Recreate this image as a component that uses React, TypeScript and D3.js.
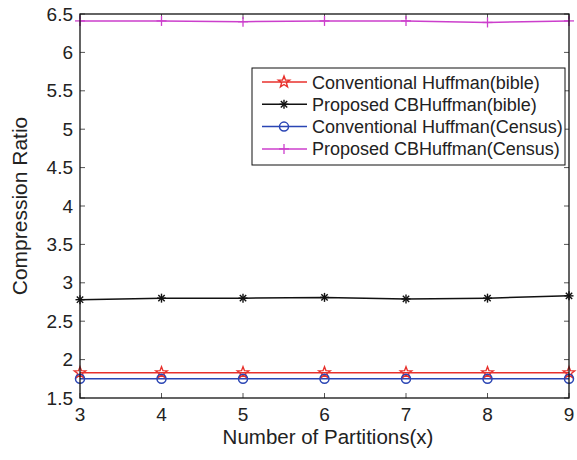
import React, { useEffect, useRef } from "react";
import * as d3 from "d3";

const partitions = [3, 4, 5, 6, 7, 8, 9];
const convBible = [1.83, 1.83, 1.83, 1.83, 1.83, 1.83, 1.83];
const propBible = [2.78, 2.8, 2.8, 2.81, 2.79, 2.8, 2.83];
const convCensus = [1.75, 1.75, 1.75, 1.75, 1.75, 1.75, 1.75];
const propCensus = [6.41, 6.41, 6.4, 6.41, 6.41, 6.39, 6.41];
const yTicks = [1.5, 2, 2.5, 3, 3.5, 4, 4.5, 5, 5.5, 6, 6.5];
const seriesNames = [
  "Conventional Huffman(bible)",
  "Proposed CBHuffman(bible)",
  "Conventional Huffman(Census)",
  "Proposed CBHuffman(Census)",
];

const FONT = "Liberation Sans, Arial, sans-serif";

function drawMarker(g: any, kind: string, cx: number, cy: number, color: string) {
  if (kind === "star") {
    const pts: [number, number][] = [];
    for (let i = 0; i < 10; i++) {
      const r = i % 2 === 0 ? 6 : 2.5;
      const a = -Math.PI / 2 + (i * Math.PI) / 5;
      pts.push([cx + r * Math.cos(a), cy + r * Math.sin(a)]);
    }
    g.append("polygon")
      .attr("points", pts.map((p) => p.join(",")).join(" "))
      .attr("fill", "none")
      .attr("stroke", color)
      .attr("stroke-width", 1.4);
  } else if (kind === "asterisk") {
    const r = 4.5;
    for (let i = 0; i < 4; i++) {
      const a = (i * Math.PI) / 4 + Math.PI / 2;
      g.append("line")
        .attr("x1", cx - r * Math.cos(a))
        .attr("y1", cy - r * Math.sin(a))
        .attr("x2", cx + r * Math.cos(a))
        .attr("y2", cy + r * Math.sin(a))
        .attr("stroke", color)
        .attr("stroke-width", 1.4);
    }
  } else if (kind === "circle") {
    g.append("circle")
      .attr("cx", cx)
      .attr("cy", cy)
      .attr("r", 4.5)
      .attr("fill", "none")
      .attr("stroke", color)
      .attr("stroke-width", 1.5);
  } else {
    const r = 5;
    g.append("line").attr("x1", cx - r).attr("y1", cy).attr("x2", cx + r).attr("y2", cy)
      .attr("stroke", color).attr("stroke-width", 1.3);
    g.append("line").attr("x1", cx).attr("y1", cy - r).attr("x2", cx).attr("y2", cy + r)
      .attr("stroke", color).attr("stroke-width", 1.3);
  }
}

export default function App() {
  const ref = useRef<SVGSVGElement>(null);

  useEffect(() => {
    const svg = d3.select(ref.current);
    svg.selectAll("*").remove();

    const left = 80, right = 569, top = 14, bottom = 398;

    const x = d3.scaleLinear().domain([3, 9]).range([left, right]);
    const y = d3.scaleLinear().domain([1.5, 6.5]).range([bottom, top]);

    svg.append("rect").attr("width", 577).attr("height", 460).attr("fill", "#fff");

    const series = [
      { name: seriesNames[0], values: convBible, color: "#e8312c", marker: "star" },
      { name: seriesNames[1], values: propBible, color: "#111", marker: "asterisk" },
      { name: seriesNames[2], values: convCensus, color: "#2a45b4", marker: "circle" },
      { name: seriesNames[3], values: propCensus, color: "#cc3fcc", marker: "plus" },
    ];

    // ticks (inward, all four sides)
    const tk = svg.append("g").attr("stroke", "#555").attr("stroke-width", 1);
    partitions.forEach((p) => {
      tk.append("line").attr("x1", x(p)).attr("x2", x(p)).attr("y1", bottom).attr("y2", bottom - 5);
      tk.append("line").attr("x1", x(p)).attr("x2", x(p)).attr("y1", top).attr("y2", top + 5);
    });
    yTicks.forEach((t) => {
      tk.append("line").attr("x1", left).attr("x2", left + 5).attr("y1", y(t)).attr("y2", y(t));
      tk.append("line").attr("x1", right).attr("x2", right - 5).attr("y1", y(t)).attr("y2", y(t));
    });

    // lines and markers
    const line = d3.line<number>().x((_, i) => x(partitions[i])).y((d) => y(d));
    series.forEach((s) => {
      svg.append("path")
        .attr("d", line(s.values))
        .attr("fill", "none")
        .attr("stroke", s.color)
        .attr("stroke-width", 1.5);
    });
    series.forEach((s) => {
      const g = svg.append("g");
      s.values.forEach((v, i) => drawMarker(g, s.marker, x(partitions[i]), y(v), s.color));
    });

    // axes box
    svg.append("rect")
      .attr("x", left).attr("y", top)
      .attr("width", right - left).attr("height", bottom - top)
      .attr("fill", "none").attr("stroke", "#111").attr("stroke-width", 1.3);

    // tick labels
    const lab = svg.append("g").attr("font-family", FONT).attr("font-size", 19).attr("fill", "#222");
    partitions.forEach((p) => {
      lab.append("text").attr("x", x(p)).attr("y", bottom + 23).attr("text-anchor", "middle").text(p);
    });
    yTicks.forEach((t) => {
      lab.append("text").attr("x", left - 7).attr("y", y(t) + 6.5).attr("text-anchor", "end").text(d3.format("~g")(t));
    });

    // axis titles
    svg.append("text")
      .attr("x", 328).attr("y", 444)
      .attr("text-anchor", "middle")
      .attr("font-family", FONT).attr("font-size", 20.5).attr("fill", "#222")
      .text("Number of Partitions(x)");
    svg.append("text")
      .attr("transform", `translate(27,206) rotate(-90)`)
      .attr("text-anchor", "middle")
      .attr("font-family", FONT).attr("font-size", 21).attr("fill", "#222")
      .text("Compression Ratio");

    // legend
    const lg = svg.append("g");
    lg.append("rect")
      .attr("x", 252).attr("y", 68).attr("width", 313).attr("height", 97)
      .attr("fill", "#fff").attr("stroke", "#111").attr("stroke-width", 1);
    series.forEach((s, i) => {
      const cy = 82 + i * 22.3;
      lg.append("line").attr("x1", 262).attr("x2", 307).attr("y1", cy).attr("y2", cy)
        .attr("stroke", s.color).attr("stroke-width", 1.5);
      drawMarker(lg, s.marker, 284, cy, s.color);
      lg.append("text")
        .attr("x", 312).attr("y", cy + 6.5)
        .attr("font-family", FONT).attr("font-size", 18).attr("fill", "#222")
        .text(s.name);
    });
  }, []);

  return (
    <svg
      ref={ref}
      width={577}
      height={460}
      style={{ position: "absolute", left: 0, top: 0 }}
    />
  );
}
